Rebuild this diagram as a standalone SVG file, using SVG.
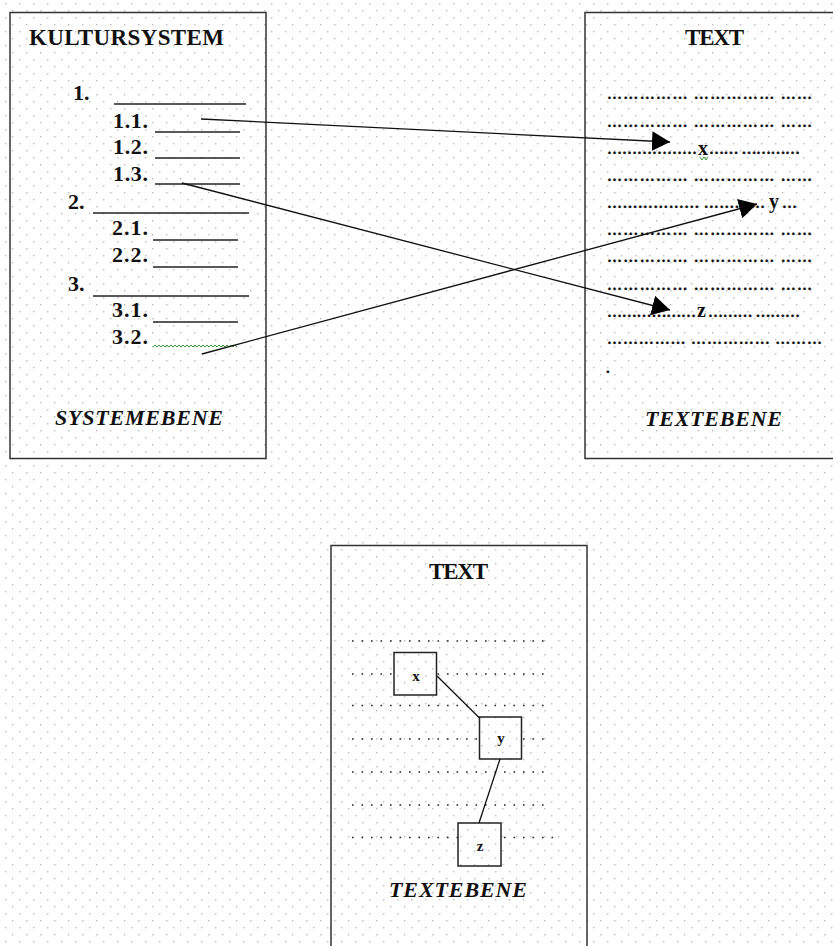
<svg xmlns="http://www.w3.org/2000/svg" width="833" height="946" viewBox="0 0 833 946">
<defs>
<pattern id="grid" width="14" height="14" patternUnits="userSpaceOnUse">
<rect width="14" height="14" fill="#fff"/>
<rect x="5" y="3" width="1.4" height="1.4" fill="#bcbcbc"/>
<rect x="12" y="10" width="1.4" height="1.4" fill="#bcbcbc"/>
</pattern>
<marker id="ah" markerUnits="userSpaceOnUse" markerWidth="20" markerHeight="22" refX="18" refY="10" orient="auto">
<path d="M0,0 L18,10 L0,20 Z" fill="#000"/>
</marker>
<style>
.box{fill:none;stroke:#333;stroke-width:1.5}
.t{font-family:"Liberation Serif","Times New Roman",serif;font-weight:bold;fill:#111}
.h{font-size:23px}
.n{font-size:22px}
.it{font-style:italic;font-size:22px}
.ul{stroke:#222;stroke-width:1.3}
.sq{stroke:#222;stroke-width:1.5;fill:url(#grid)}
.conn{stroke:#111;stroke-width:1.3;fill:none}
.dots{font-family:"Liberation Serif","Times New Roman",serif;font-weight:bold;font-size:15px;fill:#111;stroke:#111;stroke-width:0.4}
.let{font-family:"Liberation Serif","Times New Roman",serif;font-weight:bold;font-size:20px;fill:#111}
.fine{stroke:#222;stroke-width:1.6;stroke-dasharray:1.6 7.9}
.sl{font-family:"Liberation Serif","Times New Roman",serif;font-weight:bold;font-size:15px;fill:#111;text-anchor:middle}
.wave{fill:none;stroke:#3a9a3a;stroke-width:1}
</style>
</defs>
<rect width="833" height="946" fill="url(#grid)"/>

<g id="kultursystem">
<rect class="box" x="10" y="12.5" width="256" height="446"/>
<text class="t h" x="29" y="45" textLength="195" lengthAdjust="spacing">KULTURSYSTEM</text>
<text class="t n" x="73" y="100">1.</text>
<line class="ul" x1="114" y1="104" x2="246" y2="104"/>
<text class="t n" x="113" y="128" textLength="35" lengthAdjust="spacing">1.1.</text>
<line class="ul" x1="155" y1="132" x2="240" y2="132"/>
<text class="t n" x="113" y="154" textLength="35" lengthAdjust="spacing">1.2.</text>
<line class="ul" x1="155" y1="158" x2="240" y2="158"/>
<text class="t n" x="113" y="181" textLength="35" lengthAdjust="spacing">1.3.</text>
<line class="ul" x1="155" y1="184" x2="240" y2="184"/>
<text class="t n" x="68" y="209">2.</text>
<line class="ul" x1="93" y1="213" x2="249" y2="213"/>
<text class="t n" x="112" y="234.5" textLength="36" lengthAdjust="spacing">2.1.</text>
<line class="ul" x1="153" y1="240" x2="238" y2="240"/>
<text class="t n" x="112" y="261.5" textLength="36" lengthAdjust="spacing">2.2.</text>
<line class="ul" x1="153" y1="267" x2="238" y2="267"/>
<text class="t n" x="68" y="290.5">3.</text>
<line class="ul" x1="93" y1="296" x2="249" y2="296"/>
<text class="t n" x="112" y="317" textLength="36" lengthAdjust="spacing">3.1.</text>
<line class="ul" x1="153" y1="322" x2="238" y2="322"/>
<text class="t n" x="112" y="344" textLength="36" lengthAdjust="spacing">3.2.</text>
<polyline class="wave" points="153,347 155,345 157,347 159,345 161,347 163,345 165,347 167,345 169,347 171,345 173,347 175,345 177,347 179,345 181,347 183,345 185,347 187,345 189,347 191,345 193,347 195,345 197,347 199,345 201,347 203,345 205,347 207,345 209,347 211,345 213,347 215,345 217,347 219,345 221,347 223,345 225,347 227,345 229,347 231,345 233,347 235,345 237,347"/>
<text class="t it" x="55" y="425" textLength="168" lengthAdjust="spacing">SYSTEMEBENE</text>
</g>

<g id="text-oben">
<rect class="box" x="585" y="12.5" width="260" height="446"/>
<text class="t h" x="685" y="45" textLength="59" lengthAdjust="spacing">TEXT</text>
<text class="dots" x="607" y="99" textLength="205" lengthAdjust="spacing">&#8230;&#8230;&#8230;&#8230;&#8230; &#8230;&#8230;&#8230;&#8230;&#8230; &#8230;&#8230;</text>
<text class="dots" x="607" y="127" textLength="205" lengthAdjust="spacing">&#8230;&#8230;&#8230;&#8230;&#8230; &#8230;&#8230;&#8230;&#8230;&#8230; &#8230;&#8230;</text>
<text class="dots" x="607" y="154" textLength="90" lengthAdjust="spacing">&#8230;&#8230;&#8230;&#8230;&#8230;&#8230;</text>
<text class="let" x="698" y="155">x</text>
<polyline class="wave" points="700,157 702,160 704,157 706,160 708,157"/>
<text class="dots" x="709" y="154" textLength="91" lengthAdjust="spacing">&#8230;&#8230; &#8230;&#8230;&#8230;&#8230;</text>
<text class="dots" x="607" y="181" textLength="205" lengthAdjust="spacing">&#8230;&#8230;&#8230;&#8230;&#8230; &#8230;&#8230;&#8230;&#8230;&#8230; &#8230;&#8230;</text>
<text class="dots" x="607" y="208" textLength="158" lengthAdjust="spacing">&#8230;&#8230;&#8230;&#8230;&#8230;&#8230; &#8230;&#8230;&#8230;&#8230;</text>
<text class="let" x="769" y="208">y</text>
<text class="dots" x="782" y="208" textLength="18" lengthAdjust="spacing">&#8230;</text>
<text class="dots" x="607" y="235" textLength="205" lengthAdjust="spacing">&#8230;&#8230;&#8230;&#8230;&#8230; &#8230;&#8230;&#8230;&#8230;&#8230; &#8230;&#8230;</text>
<text class="dots" x="607" y="261.5" textLength="205" lengthAdjust="spacing">&#8230;&#8230;&#8230;&#8230;&#8230; &#8230;&#8230;&#8230;&#8230;&#8230; &#8230;&#8230;</text>
<text class="dots" x="607" y="290" textLength="205" lengthAdjust="spacing">&#8230;&#8230;&#8230;&#8230;&#8230; &#8230;&#8230;&#8230;&#8230;&#8230; &#8230;&#8230;</text>
<text class="dots" x="607" y="316.5" textLength="89" lengthAdjust="spacing">&#8230;&#8230;&#8230;&#8230;&#8230;&#8230;</text>
<text class="let" x="697" y="316.5">z</text>
<text class="dots" x="708" y="316.5" textLength="92" lengthAdjust="spacing">&#8230;&#8230;&#8230; &#8230;&#8230;&#8230;</text>
<text class="dots" x="607" y="344" textLength="215" lengthAdjust="spacing">&#8230;&#8230;&#8230;&#8230;&#8230; &#8230;&#8230;&#8230;&#8230;&#8230; &#8230;&#8230;&#8230;</text>
<text class="dots" x="606" y="372.5">.</text>
<text class="t it" x="645" y="426" textLength="137" lengthAdjust="spacing">TEXTEBENE</text>
</g>

<g id="text-unten">
<rect class="box" x="331" y="545.5" width="256" height="420"/>
<text class="t h" x="429" y="579" textLength="59" lengthAdjust="spacing">TEXT</text>
<line class="fine" x1="352" y1="641" x2="545" y2="641"/>
<line class="fine" x1="352" y1="674" x2="545" y2="674"/>
<line class="fine" x1="352" y1="705.5" x2="545" y2="705.5"/>
<line class="fine" x1="352" y1="739" x2="545" y2="739"/>
<line class="fine" x1="352" y1="772" x2="545" y2="772"/>
<line class="fine" x1="352" y1="805" x2="545" y2="805"/>
<line class="fine" x1="352" y1="837.5" x2="554" y2="837.5"/>
<text class="t it" x="389" y="897" textLength="138" lengthAdjust="spacing">TEXTEBENE</text>
</g>

<g id="node-x">
<rect class="sq" x="394" y="652.5" width="42.5" height="42.5"/>
<text class="sl" x="416" y="681">x</text>
</g>
<g id="node-y">
<rect class="sq" x="479.5" y="717" width="42" height="42"/>
<text class="sl" x="501" y="743">y</text>
</g>
<g id="node-z">
<rect class="sq" x="458" y="823" width="43" height="43"/>
<text class="sl" x="480" y="851">z</text>
</g>

<g id="connectors">
<path class="conn" d="M201,119 L670,142" marker-end="url(#ah)"/>
<path class="conn" d="M182,183 L670,310" marker-end="url(#ah)"/>
<path class="conn" d="M202,354 L757,204" marker-end="url(#ah)"/>
<path class="conn" d="M437,676 L479.5,718"/>
<path class="conn" d="M500,759 L479,823"/>
</g>
</svg>
